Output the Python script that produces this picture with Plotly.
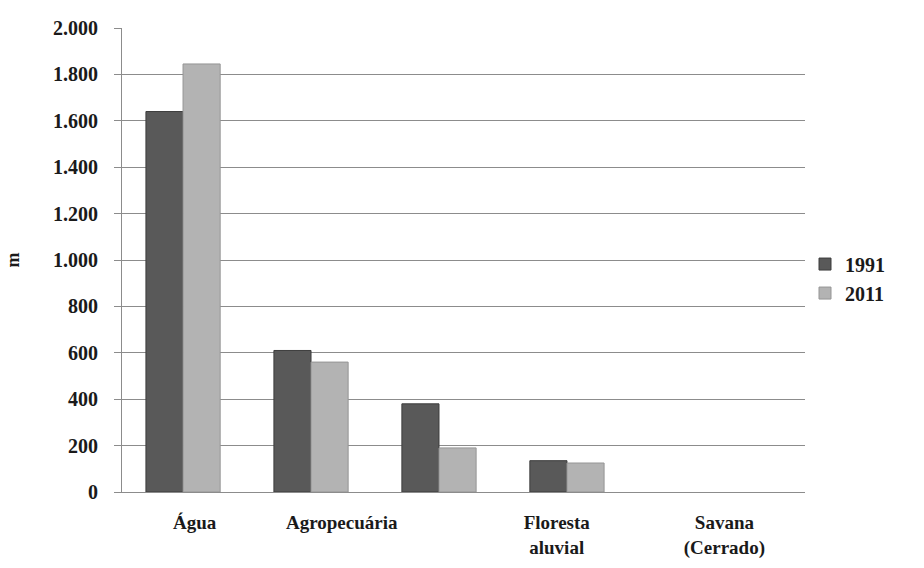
import plotly.graph_objects as go

categories = ["Água", "Agropecuária", "Floresta<br>aluvial", "Savana<br>(Cerrado)"]
series_names = ["1991", "2011"]
values_1991 = [1640, 610, 380, 135]
values_2011 = [1845, 560, 190, 125]
y_ticks = [0, 200, 400, 600, 800, 1000, 1200, 1400, 1600, 1800, 2000]

# bar groups sit at index positions; labels drawn slightly offset as in the source image
x_idx = list(range(len(categories)))
label_pos = [0.09, 1.24, 2.92, 4.23]

font_family = "'Liberation Serif', 'DejaVu Serif', serif"
txt = "#1a1a1a"

fig = go.Figure()
fig.add_trace(go.Bar(
    x=x_idx, y=values_1991, name=series_names[0],
    marker=dict(color="#595959", line=dict(color="#3d3d3d", width=1)),
))
fig.add_trace(go.Bar(
    x=x_idx, y=values_2011, name=series_names[1],
    marker=dict(color="#b3b3b3", line=dict(color="#959595", width=1)),
))

fig.update_layout(
    width=924, height=568,
    margin=dict(l=122, r=119, t=28, b=76),
    paper_bgcolor="white", plot_bgcolor="white",
    barmode="group", bargap=0.42, bargroupgap=0,
    separators=",.",
    font=dict(family=font_family, size=18, color=txt, weight="bold"),
    showlegend=True,
    legend=dict(x=1.0, y=0.46, xanchor="left", yanchor="middle",
                font=dict(family=font_family, size=20, color=txt, weight="bold"),
                itemwidth=30, tracegroupgap=2),
    xaxis=dict(
        range=[-0.477, 4.86], automargin=False,
        tickmode="array", tickvals=label_pos, ticktext=categories,
        ticks="", showgrid=False, zeroline=False,
        showline=True, linecolor="#8c8c8c", linewidth=1,
        tickfont=dict(family=font_family, size=19, color=txt, weight="bold"),
        ticklabelstandoff=13,
    ),
    yaxis=dict(
        range=[0, 2000], automargin=False,
        tickmode="array", tickvals=y_ticks,
        tickformat=",d",
        showgrid=True, gridcolor="#8c8c8c", gridwidth=1,
        zeroline=False,
        showline=True, linecolor="#8c8c8c", linewidth=1,
        ticks="outside", ticklen=7, tickcolor="#8c8c8c",
        tickfont=dict(family=font_family, size=20, color=txt, weight="bold"),
        ticklabelstandoff=12,
        title=dict(text="m", standoff=28,
                   font=dict(family=font_family, size=18, color=txt, weight="bold")),
    ),
)

fig.write_html("out.html")
